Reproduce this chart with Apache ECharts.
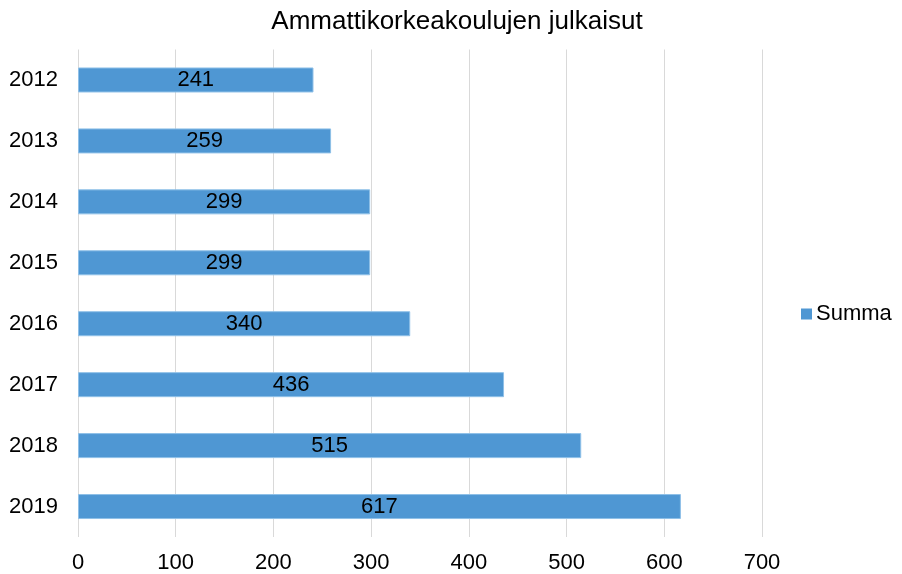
<!DOCTYPE html>
<html>
<head>
<meta charset="utf-8">
<script src="https://cdn.jsdelivr.net/npm/echarts@6/dist/echarts.min.js"></script>
<style>
    html, body { margin: 0; padding: 0; background: #fff; }
    #chart_pub { width: 902px; height: 574px; }
</style>
</head>
<body>
<div id="chart_pub"></div>
<script>
var years = ['2012', '2013', '2014', '2015', '2016', '2017', '2018', '2019'];
var summa = [241, 259, 299, 299, 340, 436, 515, 617];
var xTicks = [0, 100, 200, 300, 400, 500, 600, 700];

var myChart = echarts.init(document.getElementById('chart_pub'));
var option = {
    textStyle: {
        fontFamily: 'Liberation Sans, Arial, sans-serif'
    },
    title: {
        text: 'Ammattikorkeakoulujen julkaisut',
        left: 452,
        textAlign: 'center',
        top: 4,
        textStyle: {
            fontSize: 26,
            fontWeight: 'normal',
            color: '#000'
        }
    },
    legend: {
        data: [{ name: 'Summa', icon: 'rect' }],
        orient: 'vertical',
        left: 796,
        top: 298,
        itemWidth: 11,
        itemHeight: 11,
        itemGap: 6,
        itemStyle: {
            borderWidth: 0
        },
        textStyle: {
            fontSize: 22,
            color: '#000',
            padding: [0, 0, 0, -1]
        }
    },
    grid: {
        left: 78,
        right: 140,
        top: 49.5,
        bottom: 36.5,
        containLabel: false
    },
    xAxis: {
        type: 'value',
        min: 0,
        max: 700,
        interval: 100,
        axisLine: { show: false },
        axisTick: { show: false },
        axisLabel: {
            fontSize: 22,
            color: '#000',
            margin: 15,
            formatter: function (v) {
                return xTicks.indexOf(v) >= 0 ? String(v) : '';
            }
        },
        splitLine: {
            show: true,
            lineStyle: { color: '#d9d9d9', width: 1 }
        }
    },
    yAxis: {
        type: 'category',
        data: years,
        inverse: true,
        axisLine: { show: false },
        axisTick: { show: false },
        axisLabel: {
            fontSize: 22,
            color: '#000',
            margin: 20
        }
    },
    series: [
        {
            name: 'Summa',
            type: 'bar',
            data: summa,
            barWidth: 25,
            itemStyle: {
                color: '#4f97d3',
                borderColor: '#8fc0e8',
                borderWidth: 1
            },
            label: {
                show: true,
                position: 'inside',
                fontSize: 22,
                color: '#000'
            }
        }
    ]
};
myChart.setOption(option);
</script>
</body>
</html>
